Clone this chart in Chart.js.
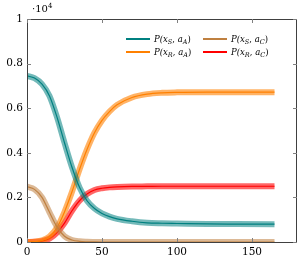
<!DOCTYPE html>
<html>
<head>
<meta charset="utf-8">
<script src="https://cdn.jsdelivr.net/npm/chart.js@4"></script>
<style>
  html, body { margin: 0; padding: 0; background: #fff; }
  #wrap { width: 298px; height: 261px; }
</style>
</head>
<body>
<div id="wrap"><canvas id="myChart" width="298" height="261"></canvas></div>
<script>
// time steps and populations (values in units, axis shows x 10^4)
var times = [0, 5, 10, 15, 20, 25, 30, 35, 40, 45, 50, 55, 60, 70, 80, 90, 100, 120, 140, 165];
var pSA = [7450, 7350, 7080, 6550, 5600, 4450, 3350, 2450, 1850, 1500, 1280, 1140, 1040, 930, 860, 840, 830, 810, 805, 800];
var pSC = [2480, 2360, 2000, 1330, 680, 260, 90, 30, 10, 4, 0, 0, 0, 0, 0, 0, 0, 0, 0, 0];
var pRA = [0, 15, 70, 250, 650, 1350, 2250, 3250, 4150, 4900, 5450, 5850, 6150, 6480, 6630, 6690, 6710, 6720, 6720, 6720];
var pRC = [0, 8, 40, 150, 420, 850, 1400, 1850, 2150, 2330, 2410, 2450, 2470, 2490, 2495, 2500, 2500, 2500, 2500, 2500];

var xTicks = [0, 50, 100, 150];
var yTicks = [0, 2000, 4000, 6000, 8000, 10000];

var seriesNames = [["x", "S", "a", "A"], ["x", "S", "a", "C"], ["x", "R", "a", "A"], ["x", "R", "a", "C"]];
var seriesColors = ["#008080", "#bf8040", "#ff8000", "#ff0000"];
var bandColors = ["rgba(0,128,128,0.55)", "rgba(191,128,64,0.55)", "rgba(255,128,0,0.6)", "rgba(255,0,0,0.6)"];
var seriesData = [pSA, pSC, pRA, pRC];

function pts(vals) {
  return times.map(function(t, i) { return { x: t, y: vals[i] }; });
}

var datasets = [];
seriesData.forEach(function(vals, i) {
  datasets.push({ data: pts(vals), borderColor: bandColors[i], borderWidth: 6, pointRadius: 0, cubicInterpolationMode: "monotone" });
  datasets.push({ data: pts(vals), borderColor: seriesColors[i], borderWidth: 1.2, pointRadius: 0, cubicInterpolationMode: "monotone" });
});

var serif = "'DejaVu Serif', 'Liberation Serif', serif";

var framePlugin = {
  id: "frame",
  afterDraw: function(chart) {
    var ctx = chart.ctx, a = chart.chartArea;
    var xs = chart.scales.x, ys = chart.scales.y;
    ctx.save();
    ctx.strokeStyle = "#404040";
    ctx.lineWidth = 1;
    ctx.strokeRect(Math.round(a.left) + 0.5, Math.round(a.top) + 0.5, Math.round(a.right - a.left) - 1, Math.round(a.bottom - a.top));
    ctx.strokeStyle = "#808080";
    ctx.beginPath();
    xTicks.forEach(function(v) {
      var px = Math.round(xs.getPixelForValue(v)) + 0.5;
      ctx.moveTo(px, a.bottom); ctx.lineTo(px, a.bottom - 4);
      ctx.moveTo(px, a.top); ctx.lineTo(px, a.top + 4);
    });
    yTicks.forEach(function(v) {
      var py = Math.round(ys.getPixelForValue(v)) + 0.5;
      ctx.moveTo(a.left, py); ctx.lineTo(a.left + 4, py);
      ctx.moveTo(a.right, py); ctx.lineTo(a.right - 4, py);
    });
    ctx.stroke();

    // exponent label
    ctx.fillStyle = "#000";
    ctx.textBaseline = "alphabetic";
    ctx.font = "10px " + serif;
    ctx.fillText("\u00b710", a.left + 5, 12);
    ctx.font = "7px " + serif;
    ctx.fillText("4", a.left + 21, 8);

    // legend, two columns
    var cols = [126, 203], rows = [39, 52];
    seriesNames.forEach(function(n, i) {
      var lx = cols[i % 2], ly = rows[Math.floor(i / 2)];
      ctx.strokeStyle = seriesColors[i];
      ctx.lineWidth = 2;
      ctx.beginPath(); ctx.moveTo(lx, ly); ctx.lineTo(lx + 24, ly); ctx.stroke();
      var tx = lx + 28, base = ly + 3;
      ctx.fillStyle = "#000";
      var parts = [["P(", 0], [n[0], 1], [n[1], 2], [", ", 0], [n[2], 1], [n[3], 2], [")", 0]];
      parts.forEach(function(p) {
        if (p[1] === 2) { ctx.font = "italic 6.5px " + serif; ctx.fillText(p[0], tx, base + 2); }
        else if (p[1] === 1) { ctx.font = "italic 8.5px " + serif; ctx.fillText(p[0], tx, base); }
        else { ctx.font = (p[0] === "P(" ? "italic " : "") + "8.5px " + serif; ctx.fillText(p[0], tx, base); }
        tx += ctx.measureText(p[0]).width;
      });
    });
    ctx.restore();
  }
};

var ctx = document.getElementById("myChart").getContext("2d");
var myChart = new Chart(ctx, {
  type: "line",
  data: { datasets: datasets },
  options: {
    responsive: false,
    animation: false,
    layout: { padding: { top: 19, right: 1, left: 0, bottom: 0 } },
    plugins: { legend: { display: false }, tooltip: { enabled: false } },
    scales: {
      x: {
        type: "linear", min: 0, max: 180,
        afterBuildTicks: function(s) { s.ticks = xTicks.map(function(v) { return { value: v }; }); },
        afterFit: function(s) { s.height = 19; },
        grid: { display: false, drawTicks: false },
        border: { display: false },
        ticks: { color: "#000", padding: 4, font: { family: serif, size: 10.5 }, maxRotation: 0 }
      },
      y: {
        min: 0, max: 10000,
        afterBuildTicks: function(s) { s.ticks = yTicks.map(function(v) { return { value: v }; }); },
        afterFit: function(s) { s.width = 27; },
        grid: { display: false, drawTicks: false },
        border: { display: false },
        ticks: { color: "#000", padding: 4, font: { family: serif, size: 10.5 },
          callback: function(v) { return String(Math.round(v / 1000) / 10); } }
      }
    }
  },
  plugins: [framePlugin]
});
</script>
</body>
</html>
